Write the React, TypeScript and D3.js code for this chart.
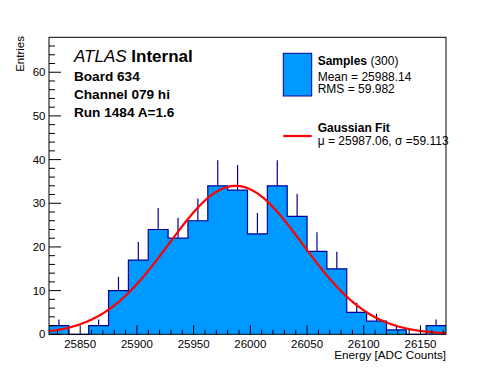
import React, { useEffect, useRef } from 'react';
import * as d3 from 'd3';

// histogram of 20 bins, 17.5 ADC counts wide
const binStart = 25822.5;
const binWidth = 17.5;
const counts = [2, 0, 2, 10, 17, 24, 22, 26, 34, 33, 23, 34, 27, 19, 15, 5, 3, 1, 0, 2];

// gaussian fit parameters
const fitMean = 25987.06;
const fitSigma = 59.113;
const fitConst = 34.0;

const xMajor = [25850, 25900, 25950, 26000, 26050, 26100, 26150];
const yMajor = [0, 10, 20, 30, 40, 50, 60];

const textLines = ['Board 634', 'Channel 079 hi', 'Run 1484 A=1.6'];
const statLines = ['Mean = 25988.14', 'RMS = 59.982'];
const fitLine = 'μ = 25987.06, σ =59.113';

const W = 496;
const H = 372;
const FONT = '"Liberation Sans", Arial, Helvetica, sans-serif';
const FILL = '#0099ff';
const LINE = '#000099';

const App = () => {
    const domref = useRef<HTMLDivElement>(null);

    useEffect(() => {
        d3.select(domref.current).selectAll('svg').remove();

        const xMin = binStart;
        const xMax = binStart + binWidth * counts.length;
        const x = d3.scaleLinear().domain([xMin, xMax]).range([49, 446]);
        const y = d3.scaleLinear().domain([0, 68]).range([334.3, 37.3]);

        const svg = d3.select(domref.current)
            .append('svg')
            .attr('width', W)
            .attr('height', H)
            .style('position', 'absolute')
            .style('left', 0)
            .style('top', 0)
            .attr('font-family', FONT);

        svg.append('rect').attr('width', W).attr('height', H).attr('fill', 'white');

        // filled histogram, step outline
        const steps: [number, number][] = [];
        counts.forEach((c, i) => {
            steps.push([binStart + i * binWidth, c]);
            steps.push([binStart + (i + 1) * binWidth, c]);
        });
        const area = d3.area<[number, number]>()
            .x(d => x(d[0]))
            .y0(y(0))
            .y1(d => y(d[1]));
        svg.append('path')
            .datum(steps)
            .attr('d', area)
            .attr('fill', FILL);

        svg.append('path')
            .datum(steps)
            .attr('d', d3.line<[number, number]>().x(d => x(d[0])).y(d => y(d[1])))
            .attr('fill', 'none')
            .attr('stroke', LINE)
            .attr('stroke-width', 1.2);

        // error bars (upper half visible above the fill)
        svg.append('g')
            .attr('stroke', LINE)
            .attr('stroke-width', 1.2)
            .selectAll('line')
            .data(counts.map((c, i) => ({ c, i })).filter(d => d.c > 0))
            .join('line')
            .attr('x1', d => x(binStart + (d.i + 0.5) * binWidth))
            .attr('x2', d => x(binStart + (d.i + 0.5) * binWidth))
            .attr('y1', d => y(d.c))
            .attr('y2', d => y(d.c + Math.sqrt(d.c)));

        // gaussian fit curve
        const gx = d3.range(0, 201).map(k => xMin + (xMax - xMin) * k / 200);
        svg.append('path')
            .datum(gx)
            .attr('d', d3.line<number>()
                .x(d => x(d))
                .y(d => y(fitConst * Math.exp(-0.5 * ((d - fitMean) / fitSigma) ** 2))))
            .attr('fill', 'none')
            .attr('stroke', '#ff0000')
            .attr('stroke-width', 2.2);

        // frame
        svg.append('rect')
            .attr('x', 49).attr('y', 37.3)
            .attr('width', 397).attr('height', 297)
            .attr('fill', 'none')
            .attr('stroke', 'black')
            .attr('stroke-width', 1);

        // x ticks
        const xt = svg.append('g').attr('stroke', 'black').attr('stroke-width', 1);
        d3.range(25830, 26171, 10).forEach(v => {
            const major = v % 50 === 0;
            xt.append('line')
                .attr('x1', x(v)).attr('x2', x(v))
                .attr('y1', y(0)).attr('y2', y(0) - (major ? 9 : 4.5));
        });
        svg.append('g')
            .attr('font-size', 11.5)
            .attr('text-anchor', 'middle')
            .selectAll('text')
            .data(xMajor)
            .join('text')
            .attr('x', d => x(d))
            .attr('y', 347.5)
            .text(d => d);

        // y ticks
        const yt = svg.append('g').attr('stroke', 'black').attr('stroke-width', 1);
        d3.range(0, 68, 2).forEach(v => {
            const major = v % 10 === 0;
            yt.append('line')
                .attr('x1', 49).attr('x2', 49 + (major ? 12 : 6))
                .attr('y1', y(v)).attr('y2', y(v));
        });
        svg.append('g')
            .attr('font-size', 11.5)
            .attr('text-anchor', 'end')
            .selectAll('text')
            .data(yMajor)
            .join('text')
            .attr('x', 45.5)
            .attr('y', d => y(d))
            .attr('dy', '0.36em')
            .text(d => d);

        // axis titles
        svg.append('text')
            .attr('x', 446).attr('y', 358.5)
            .attr('text-anchor', 'end')
            .attr('font-size', 11.7)
            .text('Energy [ADC Counts]');
        svg.append('text')
            .attr('transform', 'translate(23.5,36) rotate(-90)')
            .attr('text-anchor', 'end')
            .attr('font-size', 11.5)
            .text('Entries');

        // ATLAS label
        const atlas = svg.append('text').attr('x', 74).attr('y', 62.3).attr('font-size', 17);
        atlas.append('tspan').attr('font-style', 'italic').text('ATLAS ');
        atlas.append('tspan').attr('font-weight', 'bold').text('Internal');
        svg.append('g')
            .attr('font-size', 13.6)
            .attr('font-weight', 'bold')
            .selectAll('text')
            .data(textLines)
            .join('text')
            .attr('x', 74)
            .attr('y', (d, i) => 80.7 + i * 18.3)
            .text(d => d);

        // legend
        svg.append('rect')
            .attr('x', 283.3).attr('y', 53.3)
            .attr('width', 28.4).attr('height', 42.7)
            .attr('fill', FILL)
            .attr('stroke', LINE)
            .attr('stroke-width', 1);
        const s = svg.append('text').attr('x', 317.7).attr('y', 65).attr('font-size', 12);
        s.append('tspan').attr('font-weight', 'bold').text('Samples');
        s.append('tspan').text(' (300)');
        svg.append('g')
            .attr('font-size', 12)
            .selectAll('text')
            .data(statLines)
            .join('text')
            .attr('x', 317.7)
            .attr('y', (d, i) => 80.7 + i * 12.6)
            .text(d => d);

        svg.append('line')
            .attr('x1', 283.3).attr('x2', 311.7)
            .attr('y1', 136).attr('y2', 136)
            .attr('stroke', '#ff0000')
            .attr('stroke-width', 2.2);
        svg.append('text')
            .attr('x', 317.7).attr('y', 132.3)
            .attr('font-size', 12)
            .attr('font-weight', 'bold')
            .text('Gaussian Fit');
        svg.append('text')
            .attr('x', 317.7).attr('y', 145)
            .attr('font-size', 12)
            .text(fitLine);
    }, []);

    return (
        <div ref={domref}></div>
    );
};

export default App;
